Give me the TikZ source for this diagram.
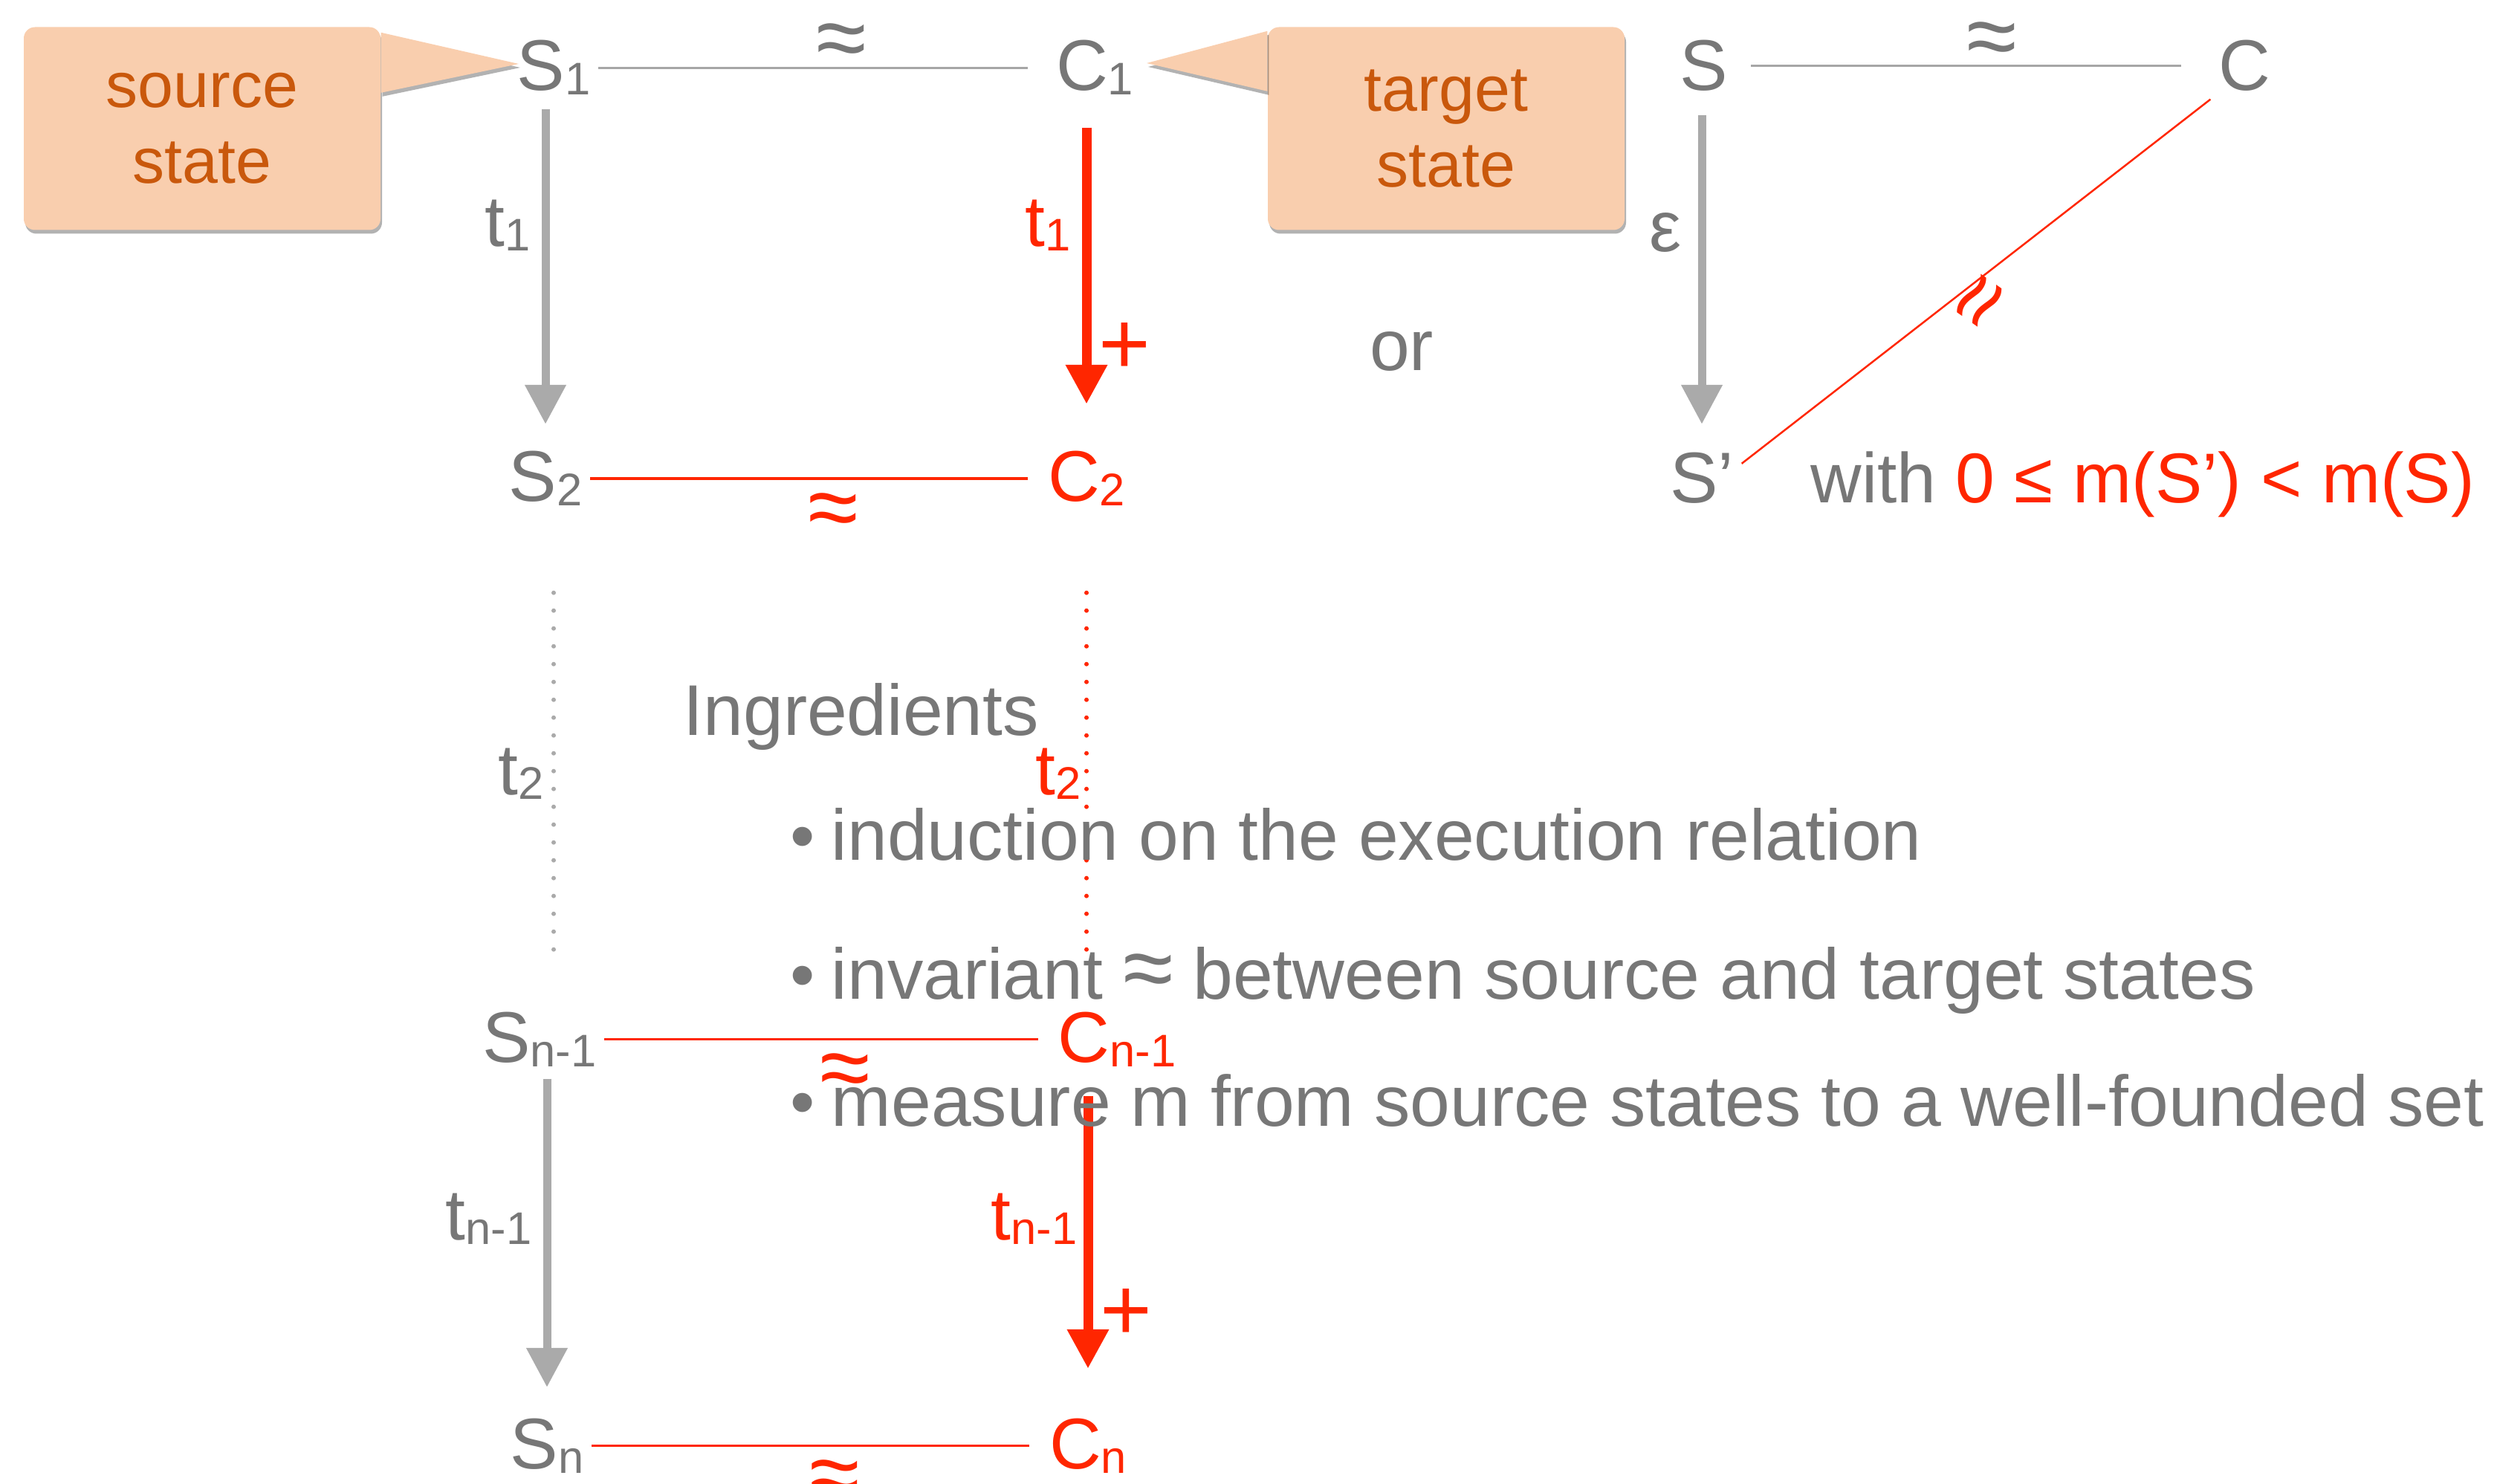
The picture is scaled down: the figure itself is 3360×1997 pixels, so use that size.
\documentclass[tikz,border=0pt]{standalone}
\usepackage{fontspec}
\setmainfont{Liberation Sans}
\usepackage{tikz}
\usetikzlibrary{arrows.meta,positioning,shadows}
\definecolor{txtgray}{HTML}{777777}
\definecolor{arrowgray}{HTML}{AAAAAA}
\definecolor{linegray}{HTML}{A6A6A6}
\definecolor{keyred}{HTML}{FF2600}
\definecolor{notefill}{HTML}{F9CEAE}
\definecolor{notetext}{HTML}{C9580C}
\newcommand{\statefont}{\fontsize{27.5}{33}\selectfont}
\newcommand{\notefont}{\fontsize{24.5}{29}\selectfont}
\newcommand{\simfont}{\fontsize{35}{40}\selectfont}
\newcommand{\idx}[1]{\raisebox{-0.6mm}{\fontsize{17.5}{20}\selectfont #1}}
\newcommand{\bul}{{\fontsize{27}{30}\selectfont\textbullet}\hspace{2.2mm}}
\tikzset{
  state/.style={inner sep=1mm, anchor=base},
  note/.style={fill=notefill, rounded corners=1.5mm, minimum width=48mm, minimum height=27.3mm,
    text=notetext, font=\notefont, align=center, noteshadow},
  noteshadow/.style={drop shadow={shadow xshift=0.2mm, shadow yshift=-0.5mm, fill=black, opacity=0.3}},
  gstep/.style={draw=arrowgray, line width=1.1mm, -{Triangle[length=5.3mm, width=5.3mm]}},
  rstep/.style={draw=keyred, line width=1.3mm, -{Triangle[length=5.3mm, width=5.3mm]}},
  simgray/.style={draw=linegray, line width=0.3mm},
  simred/.style={draw=keyred, line width=0.35mm},
  dotline/.style={line width=0.6mm, line cap=round, dash pattern=on 0pt off 2.4mm},
  simabove/.style={pos=.54, yshift=2.9mm, font=\simfont},
  simbelow/.style={pos=.54, yshift=-5mm, font=\simfont, text=keyred},
  tlabel/.style={left, inner sep=1.5mm},
  plus/.style={right, inner sep=1mm, font=\fontsize{34}{40}\selectfont, text=keyred},
  bulletline/.style={anchor=base west, inner sep=0}
}
\begin{document}
\begin{tikzpicture}[x=0.1mm, y=-0.1mm, every node/.style={font=\statefont, text=txtgray}]
  \useasboundingbox (0,0) rectangle (3360,1997);

  % callouts
  \node[note] (srcnote) at (272,173) {source\\state};
  \node[note] (tgtnote) at (1946,173) {target\\state};
  \coordinate (srctip) at (698,86);
  \coordinate (tgttip) at (1543,85);
  \fill[notefill, noteshadow] ([yshift=-0.8mm]srcnote.north east) -- (srctip) -- ([yshift=-8.9mm]srcnote.north east) -- cycle;
  \fill[notefill, noteshadow] ([yshift=-0.6mm]tgtnote.north west) -- (tgttip) -- ([yshift=-8.7mm]tgtnote.north west) -- cycle;

  % simulation square
  \node[state] (S1) at (745,122) {S\idx{1}};
  \node[state, right=72.8mm of S1.base, anchor=base] (C1) {C\idx{1}};
  \node[state] (S2) at (734,675) {S\idx{2}};
  \node[state, text=keyred, right=72.8mm of S2.base, anchor=base] (C2) {C\idx{2}};
  \node[state] (Sn1) at (726,1429) {S\idx{n-1}};
  \node[state, text=keyred, right=77.7mm of Sn1.base, anchor=base] (Cn1) {C\idx{n-1}};
  \node[state] (Sn) at (736,1976) {S\idx{n}};
  \node[state, text=keyred, right=72.8mm of Sn.base, anchor=base] (Cn) {C\idx{n}};

  \draw[simgray, shorten >=2.7mm] (S1) -- node[simabove] {≈} (C1);
  \draw[simred, shorten >=1.6mm] (S2) -- node[simbelow] {≈} (C2);
  \draw[simred, shorten >=1.6mm] (Sn1) -- node[simbelow] {≈} (Cn1);
  \draw[simred, shorten >=1.6mm] (Sn) -- node[simbelow] {≈} (Cn);

  \draw[gstep, shorten <=0.8mm, shorten >=2.6mm] (S2.north |- S1.south) -- node[tlabel, pos=.36] {t\idx{1}} (S2.north);
  \draw[rstep, shorten <=3.3mm, shorten >=5.3mm] (C2.north |- C1.south) -- node[tlabel, text=keyred, pos=.36] {t\idx{1}} node[plus, pos=.72] {+} (C2.north);
  \draw[dotline, arrowgray, shorten <=10.6mm, shorten >=6.2mm] (S1.south |- S2.south) -- node[tlabel, inner sep=1mm, pos=.53] {t\idx{2}} (S1.south |- Sn1.north);
  \draw[dotline, keyred, shorten <=10.6mm, shorten >=6.2mm] (C2.south) -- node[tlabel, inner sep=0.4mm, text=keyred, pos=.53] {t\idx{2}} (C2.south |- Cn1.north);
  \draw[gstep, shorten <=0.6mm, shorten >=3.1mm] (Sn.north |- Sn1.south) -- node[tlabel, pos=.43] {t\idx{n-1}} (Sn.north);
  \draw[rstep, shorten <=2.9mm, shorten >=5.6mm] (Cn.north |- Cn1.south) -- node[tlabel, inner sep=0.8mm, text=keyred, pos=.43] {t\idx{n-1}} node[plus, pos=.715] {+} (Cn.north);

  \node[anchor=base] (or) at (1886,499) {or};

  % stuttering case
  \node[state] (S) at (2293,122) {S};
  \node[state, right=72.7mm of S.base, anchor=base] (C) {C};
  \node[state] (Sp) at (2290,677) {S’};
  \node[anchor=base west, inner sep=0, font=\fontsize{27}{33}\selectfont] (cond) at (2436,677) {with \textcolor{keyred}{0 ≤ m(S’) < m(S)}};

  \draw[simgray, shorten <=2mm, shorten >=3.9mm] (S) -- node[simabove] {≈} (C);
  \draw[gstep, shorten <=2.1mm, shorten >=2.8mm] (Sp.north |- S.south) -- node[tlabel, inner sep=2.2mm, pos=.385] {ε} (Sp.north);
  \draw[simred, line width=0.25mm] (C.south west) -- node[pos=.48, yshift=-4.2mm, rotate=55, font=\simfont, text=keyred] {≈} ([yshift=-2.5mm]Sp.north east);

  % ingredients
  \node[anchor=base west, inner sep=0] (ingr) at (919,990) {Ingredients};
  \node[bulletline] (ind) at (1063,1158) {\bul induction on the execution relation};
  \node[bulletline] (inv) at (1063,1344) {\bul invariant {\simfont ≈} between source and target states};
  \node[bulletline] (meas) at (1063,1515) {\bul measure m from source states to a well-founded set};
\end{tikzpicture}
\end{document}
